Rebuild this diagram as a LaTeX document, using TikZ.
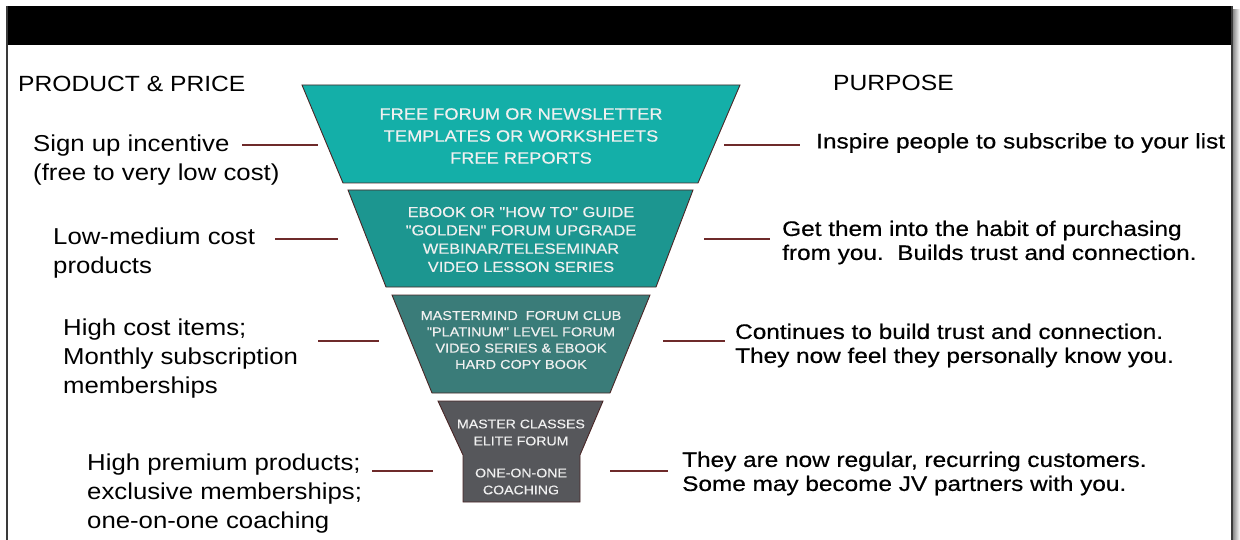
\documentclass[tikz,border=0pt]{standalone}
\usepackage{fontspec}
\setmainfont{Liberation Sans}[FakeStretch=1.12]
\newfontfamily\purposefont{Liberation Sans}[FakeStretch=1.16,FakeBold=0.5]
\newfontfamily\tierfont{Liberation Sans}[FakeStretch=1.12,FakeBold=0.3]
\newcommand{\sq}{\symbol{34}}

\definecolor{tealA}{HTML}{14AFA8}
\definecolor{tealB}{HTML}{1C9690}
\definecolor{tealC}{HTML}{3A7C79}
\definecolor{slate}{HTML}{56575B}
\definecolor{wine}{HTML}{6E2A2A}
\definecolor{edgeline}{HTML}{4A2626}
\definecolor{framegray}{HTML}{3A3A3A}

\begin{document}
\begin{tikzpicture}[x=1pt,y=-1pt,
  layer/.style={draw=edgeline,line width=0.9pt,line join=miter},
  tiertext/.style={text=white!94!black,align=center,inner sep=0pt},
  heading/.style={anchor=west,inner sep=0pt,font=\fontsize{22}{26}\selectfont},
  pricelbl/.style={anchor=west,align=left,inner sep=0pt,font=\fontsize{23}{29}\selectfont},
  purposelbl/.style={anchor=west,align=left,inner sep=0pt,font=\purposefont\fontsize{21}{24}\selectfont},
  conn/.style={draw=wine,line width=1.8pt}
]
\useasboundingbox (0,0) rectangle (1240,540);

% page frame with black title band and soft right shadow
\shade[left color=black!45,right color=white] (1233,10) rectangle (1240,540);
\fill[black] (7,6) rectangle (1233,45);
\draw[framegray,line width=1.2pt] (7,6) -- (7,540);
\draw[framegray,line width=1.2pt] (1232,6) -- (1232,540);

% column headings
\node[heading] (hprice) at (18,84) {PRODUCT \& PRICE};
\node[heading] (hpurpose) at (833,83) {PURPOSE};

% funnel tiers
\draw[layer,fill=tealA] (302,85) -- (740,85) -- (698,183) -- (343,183) -- cycle;
\draw[layer,fill=tealB] (348,190) -- (693,190) -- (656,287) -- (386,287) -- cycle;
\draw[layer,fill=tealC] (392,295) -- (650,295) -- (610,393) -- (432,393) -- cycle;
\draw[layer,fill=slate] (438,401) -- (603,401) -- (580,455) -- (580,502)
  -- (463,502) -- (463,455) -- cycle;

\node[tiertext,font=\tierfont\fontsize{16.3}{22}\selectfont] (t1) at (521,136)
  {FREE FORUM OR NEWSLETTER\\TEMPLATES OR WORKSHEETS\\FREE REPORTS};
\node[tiertext,font=\tierfont\fontsize{14.6}{18.3}\selectfont] (t2) at (521,239.5)
  {EBOOK OR \sq HOW TO\sq{} GUIDE\\\sq GOLDEN\sq{} FORUM UPGRADE\\WEBINAR/TELESEMINAR\\VIDEO LESSON SERIES};
\node[tiertext,font=\tierfont\fontsize{12.9}{16.3}\selectfont] (t3) at (521,340)
  {MASTERMIND\ \ FORUM CLUB\\\sq PLATINUM\sq{} LEVEL FORUM\\VIDEO SERIES \& EBOOK\\HARD COPY BOOK};
\node[tiertext,font=\tierfont\fontsize{12.6}{17}\selectfont] (t4a) at (521,432.5)
  {MASTER CLASSES\\ELITE FORUM};
\node[tiertext,font=\tierfont\fontsize{12.6}{17}\selectfont] (t4b) at (521,481.5)
  {ONE-ON-ONE\\COACHING};

% product and price labels
\node[pricelbl] (p1) at (33,160) {Sign up incentive\\(free to very low cost)};
\node[pricelbl] (p2) at (53,253) {Low-medium cost\\products};
\node[pricelbl] (p3) at (63,359) {High cost items;\\Monthly subscription\\memberships};
\node[pricelbl] (p4) at (87,494) {High premium products;\\exclusive memberships;\\one-on-one coaching};

% purpose labels
\node[purposelbl] (r1) at (816,143) {Inspire people to subscribe to your list};
\node[purposelbl] (r2) at (782,242.5) {Get them into the habit of purchasing\\from you.\ \ Builds trust and connection.};
\node[purposelbl] (r3) at (735,345.5) {Continues to build trust and connection.\\They now feel they personally know you.};
\node[purposelbl] (r4) at (682,473.5) {They are now regular, recurring customers.\\Some may become JV partners with you.};

% leader lines
\coordinate (p1a) at (242,145); \coordinate (p1b) at (318,145);
\coordinate (p2a) at (275,239); \coordinate (p2b) at (338,239);
\coordinate (p3a) at (318,341); \coordinate (p3b) at (379,341);
\coordinate (p4a) at (372,471); \coordinate (p4b) at (433,471);
\coordinate (r1a) at (724,145); \coordinate (r1b) at (800,145);
\coordinate (r2a) at (704,239); \coordinate (r2b) at (770,239);
\coordinate (r3a) at (663,341); \coordinate (r3b) at (725,341);
\coordinate (r4a) at (610,471); \coordinate (r4b) at (668,471);
\foreach \c in {p1,p2,p3,p4,r1,r2,r3,r4}
  \draw[conn] (\c a) -- (\c b);
\end{tikzpicture}
\end{document}
